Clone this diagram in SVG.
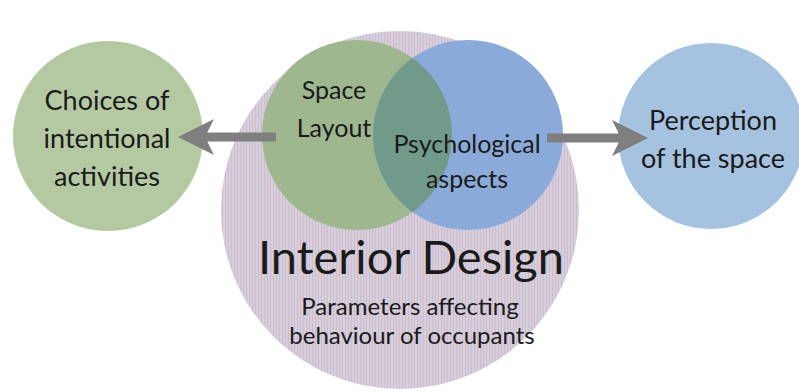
<svg xmlns="http://www.w3.org/2000/svg" width="799" height="392" viewBox="0 0 799 392">
<style>
text{font-family:Lato,"Open Sans","Liberation Sans",sans-serif;fill:#1a1a1a;text-anchor:middle}
.t{font-size:25px}
.o{font-size:27px}
.big{font-size:47px}
.sm{font-size:24px}
</style>
<defs>
<pattern id="stripes" width="3" height="4" patternUnits="userSpaceOnUse">
<rect width="3" height="4" fill="#d8cddb"/>
<rect width="1" height="4" fill="#cbbfcf"/>
</pattern>
<marker id="ah" markerWidth="4" markerHeight="4" refX="2" refY="2" orient="auto" markerUnits="strokeWidth">
<path d="M0,0 L4,2 L0,4 L1,2 Z" fill="#7f7f7f"/>
</marker>
</defs>
<rect width="799" height="392" fill="#fff"/>
<g id="interior-design">
<circle cx="400" cy="210" r="179" fill="url(#stripes)"/>
</g>
<g id="choices">
<circle cx="108" cy="136" r="95" fill="#b4c9a2"/>
<text class="o" x="107" y="110">Choices of</text>
<text class="o" x="107" y="148">intentional</text>
<text class="o" x="107" y="186">activities</text>
</g>
<g id="perception">
<circle cx="711" cy="136" r="93" fill="#a5c3e1"/>
<text class="o" x="713" y="130">Perception</text>
<text class="o" x="713" y="168">of the space</text>
</g>
<g id="space-layout">
<circle cx="357" cy="135" r="95" fill="#9eb78e"/>
</g>
<g id="psychological">
<circle cx="468" cy="135" r="95" fill="#8aaad9"/>
</g>
<g id="overlap">
<clipPath id="cl"><circle cx="357" cy="135" r="95"/></clipPath>
<circle cx="468" cy="135" r="95" fill="#729a8b" clip-path="url(#cl)"/>
</g>
<g id="labels">
<text class="t" x="334" y="99">Space</text>
<text class="t" x="334" y="137">Layout</text>
<text class="t" x="467" y="153">Psychological</text>
<text class="t" x="467" y="188">aspects</text>
<text class="big" x="411" y="274">Interior Design</text>
<text class="sm" x="410" y="315">Parameters affecting</text>
<text class="sm" x="412" y="344">behaviour of occupants</text>
</g>
<g id="connectors">
<line x1="276" y1="137" x2="196" y2="137" stroke="#7f7f7f" stroke-width="9" marker-end="url(#ah)"/>
<line x1="547" y1="138" x2="630" y2="138" stroke="#7f7f7f" stroke-width="9" marker-end="url(#ah)"/>
</g>
</svg>
